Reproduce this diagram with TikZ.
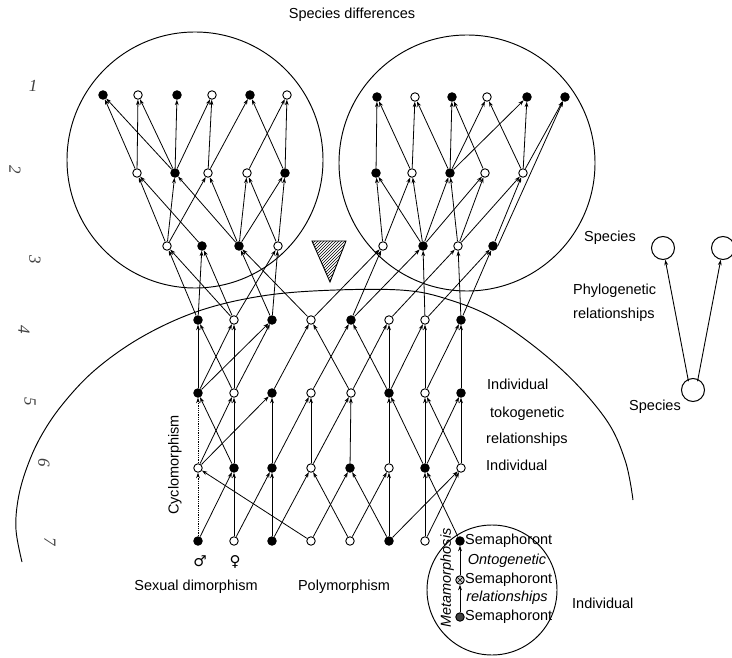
\documentclass[tikz,border=0pt]{standalone}
\usepackage{fontspec}
\setmainfont{Liberation Sans}
\newfontfamily\symfont{DejaVu Sans}
\newfontfamily\handfont{Liberation Serif}
\usetikzlibrary{arrows.meta,patterns}

\begin{document}
\begin{tikzpicture}[x=1pt,y=-1pt,
  dot/.style={circle,draw,line width=0.9pt,inner sep=0pt,minimum size=8.5pt},
  F/.style={dot,fill=black},
  O/.style={dot,fill=white},
  link/.style={line width=0.8pt,-{Stealth[length=5.5pt,width=3.8pt]},shorten <=0.3pt},
  dotlink/.style={link,densely dotted},
  lbl/.style={font=\fontsize{14.5}{17}\selectfont,inner sep=0pt},
  ilbl/.style={font=\fontsize{14.5}{17}\selectfont\itshape,inner sep=0pt},
  hand/.style={font=\handfont\itshape\fontsize{17}{17}\selectfont,text=black!75,inner sep=0pt},
  outline/.style={line width=0.95pt},
  spc/.style={circle,draw,line width=1pt,minimum size=23pt,inner sep=0pt}
]
\useasboundingbox (0,0) rectangle (732,658);

% ---- outlines: two species circles, the individual curve, the semaphoront circle
\draw[outline] (195,160) circle[radius=128pt];
\draw[outline] (467,163) circle[radius=128pt];
\draw[outline] plot[smooth,tension=0.6] coordinates {
  (22,562) (16,530) (18,500) (26,470) (40,438) (62,405) (95,370) (140,338)
  (193,313) (250,298) (313,291) (400,290) (450,300) (500,322) (560,368)
  (605,418) (625,460) (633,500)};
\draw[outline] (492,590) circle[radius=65pt];

% ---- hatched triangle
\draw[line width=0.9pt,pattern=north east lines] (312,241) -- (346,241) -- (330,282) -- cycle;

% ---- left species circle
\foreach \n/\x/\t in {a1/103/F,a2/138/O,a3/177/F,a4/212/O,a5/250/F,a6/287/O}
  \node[\t] (\n) at (\x,95) {};
\foreach \n/\x/\t in {b1/137/O,b2/175/F,b3/208/O,b4/247/O,b5/285/F}
  \node[\t] (\n) at (\x,173) {};
\foreach \n/\x/\t in {c1/167/O,c2/202/F,c3/239/F,c4/278/O}
  \node[\t] (\n) at (\x,246) {};

% ---- right species circle
\foreach \n/\x/\t in {ra1/377/F,ra2/415/O,ra3/452/F,ra4/487/O,ra5/527/F,ra6/565/F}
  \node[\t] (\n) at (\x,97) {};
\foreach \n/\x/\t in {rb1/376/F,rb2/412/O,rb3/450/F,rb4/485/O,rb5/523/O}
  \node[\t] (\n) at (\x,173) {};
\foreach \n/\x/\t in {rc1/383/O,rc2/423/F,rc3/458/O,rc4/493/F}
  \node[\t] (\n) at (\x,246) {};

% ---- individuals, four generations
\foreach \n/\x/\t in {d1/198/F,d2/234/O,d3/272/F,d4/311/O,d5/351/F,d6/389/O,d7/425/O,d8/461/F}
  \node[\t] (\n) at (\x,320) {};
\foreach \n/\x/\t in {e1/198/F,e2/234/O,e3/272/F,e4/311/O,e5/351/O,e6/389/F,e7/425/O,e8/461/F}
  \node[\t] (\n) at (\x,393) {};
\foreach \n/\x/\t in {f1/198/O,f2/234/F,f3/272/F,f4/311/O,f5/350/F,f6/389/O,f7/425/F,f8/461/O}
  \node[\t] (\n) at (\x,468) {};
\foreach \n/\x/\t in {g1/198/F,g2/234/O,g3/272/F,g4/311/O,g5/350/O,g6/389/F,g7/425/O,g8/460/F}
  \node[\t] (\n) at (\x,541) {};

% ---- semaphoronts
\node[dot,fill=black!20,path picture={
  \draw[line width=0.6pt] (path picture bounding box.south west) -- (path picture bounding box.north east)
    (path picture bounding box.north west) -- (path picture bounding box.south east);}] (s2) at (460,580) {};
\node[dot,fill=black!75] (s3) at (460,617) {};

% ---- relationships inside the species
\foreach \s/\t in {b1/a1,b2/a1,b1/a2,b2/a2,b2/a3,b2/a4,b3/a4,b3/a5,b5/a5,b4/a6,b5/a6,
  c1/b1,c2/b1,c1/b2,c3/b2,c1/b3,c3/b3,c3/b4,c4/b4,c3/b5,c4/b5,
  d1/c1,d2/c1,d1/c2,d2/c2,d3/c3,d4/c3,d2/c4,d3/c4,
  rb1/ra1,rb2/ra1,rb2/ra2,rb3/ra2,rb3/ra3,rb4/ra3,rb3/ra4,rb5/ra4,rb3/ra5,rb5/ra5,rb5/ra6,
  rc1/rb1,rc2/rb1,rc1/rb2,rc2/rb2,rc2/rb3,rc3/rb3,rc2/rb4,rc3/rb4,rc3/rb5,rc4/rb5,
  d4/rc1,d5/rc1,d5/rc2,d7/rc2,d6/rc3,d8/rc3,d7/rc4,d8/rc4}
  \draw[link] (\s) -- (\t);
\draw[link] (rc4.east) -- (ra6);

% ---- tokogenetic relationships
\foreach \s/\t in {e1/d1,e2/d1,e1/d2,e2/d2,e1/d3,e2/d3,e3/d4,e5/d4,e4/d5,e6/d5,e5/d6,e6/d6,
  e6/d7,e7/d7,e7/d8,e8/d8,
  f2/e1,f1/e2,f2/e2,f1/e3,f3/e3,f3/e4,f4/e4,f4/e5,f5/e5,f6/e6,f7/e6,f7/e7,f8/e7,f7/e8,f8/e8,
  g4/f1,g1/f2,g2/f2,g2/f3,g3/f3,g3/f4,g5/f4,g4/f5,g6/f5,g5/f6,g6/f6,g7/f7,g8/f7,g6/f8,g7/f8}
  \draw[link] (\s) -- (\t);
\draw[dotlink] (f1) -- (e1);
\draw[dotlink] (g1) -- (f1);

% ---- ontogenetic relationships
\draw[link] (s2) -- (g8);
\draw[link] (s3) -- (s2);

% ---- phylogenetic relationships
\node[spc] (sp0) at (693,390) {};
\node[spc] (sp1) at (663,248) {};
\node[spc] (sp2) at (723,248) {};
\draw[link,line width=0.9pt] (sp0.north west) ++(4,0) -- (sp1);
\draw[link,line width=0.9pt] (sp0.north east) ++(-4,0) -- (sp2);

% ---- labels
\node[lbl] (tsd) at (352,15) {Species differences};
\node[lbl,anchor=west] (tind1) at (487,384) {Individual};
\node[lbl,anchor=west] (ttok) at (490,414) {tokogenetic};
\node[lbl,anchor=west] (trel) at (486,440) {relationships};
\node[lbl,anchor=west] (tind2) at (486,465) {Individual};
\node[lbl,rotate=90] (tcyc) at (175,465) {Cyclomorphism};
\node[lbl] (tsex) at (196,587) {Sexual dimorphism};
\node[lbl] (tpoly) at (344,587) {Polymorphism};
\node[font=\symfont\fontsize{15}{15}\selectfont,inner sep=0pt] (male) at (200,561) {♂};
\node[font=\symfont\fontsize{15}{15}\selectfont,inner sep=0pt] (female) at (235,562) {♀};
\node[lbl,anchor=west] (tse1) at (465,541) {Semaphoront};
\node[lbl,anchor=west] (tse2) at (465,580) {Semaphoront};
\node[lbl,anchor=west] (tse3) at (465,617) {Semaphoront};
\node[ilbl] (tonto) at (507,561) {Ontogenetic};
\node[ilbl] (trel2) at (507,598) {relationships};
\node[ilbl,rotate=90] (tmeta) at (447,578) {Metamorphosis};
\node[lbl,anchor=west] (tind3) at (572,603) {Individual};
\node[lbl] (tsp1) at (610,238) {Species};
\node[lbl,anchor=west] (tphy) at (573,291) {Phylogenetic};
\node[lbl,anchor=west] (tphr) at (573,315) {relationships};
\node[lbl] (tsp2) at (655,407) {Species};

% ---- row numbers in the margin
\node[hand] (h1) at (33,86) {1};
\node[hand,rotate=-90] (h2) at (15,170) {2};
\node[hand,rotate=-90] (h3) at (35,260) {3};
\node[hand,rotate=-90] (h4) at (24,330) {4};
\node[hand,rotate=-90] (h5) at (30,402) {5};
\node[hand,rotate=-90] (h6) at (44,463) {6};
\node[hand,rotate=-90] (h7) at (50,542) {7};
\end{tikzpicture}
\end{document}
